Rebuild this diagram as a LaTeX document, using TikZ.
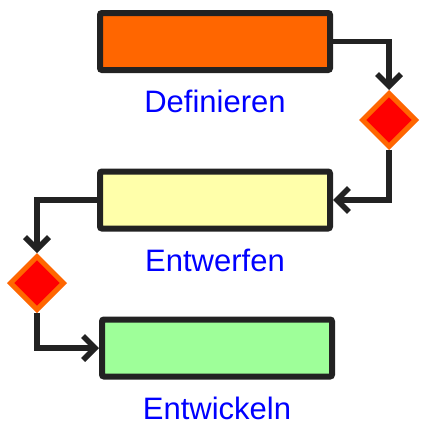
\documentclass[tikz,border=0pt]{standalone}
\usepackage{fontspec}
\setmainfont{Liberation Sans}
\usetikzlibrary{positioning,shapes.geometric,arrows.meta}
\definecolor{frame}{RGB}{34,34,34}
\definecolor{phaseorange}{RGB}{255,102,0}
\definecolor{phaseyellow}{RGB}{255,255,170}
\definecolor{phasegreen}{RGB}{158,255,153}
\definecolor{gatered}{RGB}{255,0,0}
\definecolor{labelblue}{RGB}{0,0,255}

\begin{document}
\begin{tikzpicture}[
    x=1pt, y=-1pt,
    node distance=17pt,
    phase/.style={
        draw=frame,
        line width=6pt,
        rounded corners=2pt,
        minimum width=230pt,
        minimum height=57pt,
        inner sep=0pt
    },
    gate/.style={
        diamond,
        draw=phaseorange,
        fill=gatered,
        line width=5pt,
        minimum width=55pt,
        minimum height=55pt,
        aspect=1,
        inner sep=0pt
    },
    caption/.style={
        text=labelblue,
        inner sep=0pt,
        font=\fontsize{31}{36}\selectfont
    },
    flow/.style={
        draw=frame,
        line width=5.5pt,
        -{Straight Barb[length=12pt,width=24pt]}
    }
]
\useasboundingbox[fill=white] (0,0) rectangle (442,442);

\node[phase, fill=phaseorange] (def) at (215,41.5) {};
\node[caption, below=of def] (deflabel) {Definieren};
\node[gate] (dec1) at (389,120) {};

\node[phase, fill=phaseyellow] (entw) at (215,200) {};
\node[caption, below=of entw] (entwlabel) {Entwerfen};
\node[gate] (dec2) at (37,283) {};

\node[phase, fill=phasegreen] (entk) at (217,348) {};
\node[caption, below=of entk] (entklabel) {Entwickeln};

\draw[flow] (def.east) -| (dec1.north);
\draw[flow] (dec1.south) |- (entw.east);
\draw[flow] (entw.west) -| (dec2.north);
\draw[flow] (dec2.south) |- (entk.west);
\end{tikzpicture}
\end{document}
